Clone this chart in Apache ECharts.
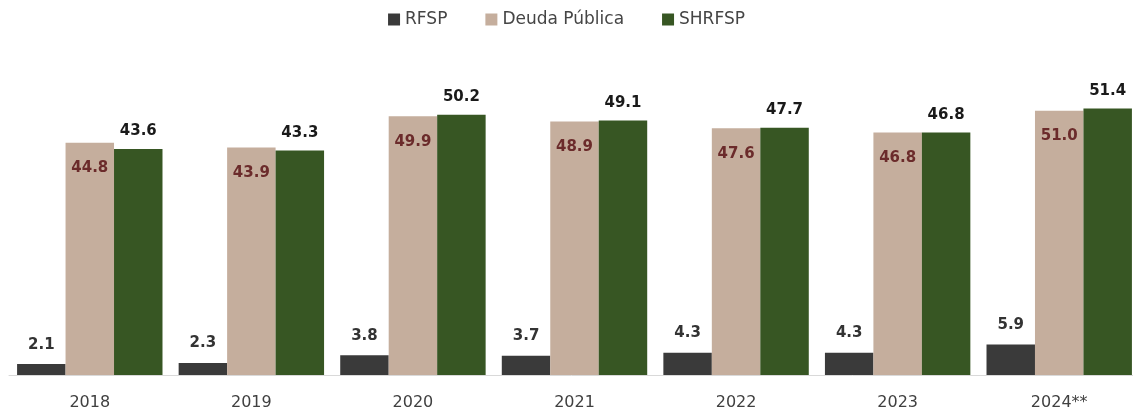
<!DOCTYPE html>
<html>
<head>
<meta charset="utf-8">
<script src="https://cdn.jsdelivr.net/npm/echarts@6/dist/echarts.min.js"></script>
<style>
html,body{margin:0;padding:0;background:#fff;}
#chart{width:1133px;height:415px;}
</style>
</head>
<body>
<div id="chart"></div>
<script>
var categories = ['2018','2019','2020','2021','2022','2023','2024**'];
var rfsp = [2.1, 2.3, 3.8, 3.7, 4.3, 4.3, 5.9];
var deuda = [44.8, 43.9, 49.9, 48.9, 47.6, 46.8, 51.0];
var shrfsp = [43.6, 43.3, 50.2, 49.1, 47.7, 46.8, 51.4];
var seriesNames = ['RFSP', 'Deuda Pública', 'SHRFSP'];

var font = 'DejaVu Sans';
var chart = echarts.init(document.getElementById('chart'));
chart.setOption({
  animation: false,
  textStyle: {fontFamily: font},
  legend: {
    top: 6,
    left: 'center',
    itemWidth: 12,
    itemHeight: 12,
    itemGap: 38,
    icon: 'rect',
    textStyle: {color: '#454545', fontSize: 17, fontFamily: font, padding: [0, 0, 0, 0]},
    data: seriesNames
  },
  grid: {left: 9, width: 1131, top: 64, height: 311, containLabel: false, outerBoundsMode: 'none'},
  xAxis: {
    type: 'category',
    data: categories,
    axisLine: {show: true, lineStyle: {color: '#d9d9d9', width: 1}},
    axisTick: {show: false},
    axisLabel: {color: '#404040', fontSize: 16, margin: 20, fontFamily: font}
  },
  yAxis: {
    type: 'value',
    min: 0,
    max: 60,
    show: false,
    splitLine: {show: false}
  },
  series: [
    {
      name: seriesNames[0], type: 'bar', data: rfsp,
      barGap: '0%', barCategoryGap: '10%',
      itemStyle: {color: '#3a3a3a'},
      label: {show: true, position: 'top', distance: 12, color: '#333', fontSize: 15, fontWeight: 'bold', fontFamily: font,
        formatter: function(p){return p.value.toFixed(1);}}
    },
    {
      name: seriesNames[1], type: 'bar', data: deuda,
      barGap: '0%', barCategoryGap: '10%',
      itemStyle: {color: '#c5ae9d'},
      label: {show: true, position: 'insideTop', distance: 18, color: '#6b2b2b', fontSize: 15, fontWeight: 'bold', fontFamily: font,
        formatter: function(p){return p.value.toFixed(1);}}
    },
    {
      name: seriesNames[2], type: 'bar', data: shrfsp,
      barGap: '0%', barCategoryGap: '10%',
      itemStyle: {color: '#375623'},
      label: {show: true, position: 'top', distance: 10, color: '#1a1a1a', fontSize: 15, fontWeight: 'bold', fontFamily: font,
        formatter: function(p){return p.value.toFixed(1);}}
    }
  ]
});
</script>
</body>
</html>
